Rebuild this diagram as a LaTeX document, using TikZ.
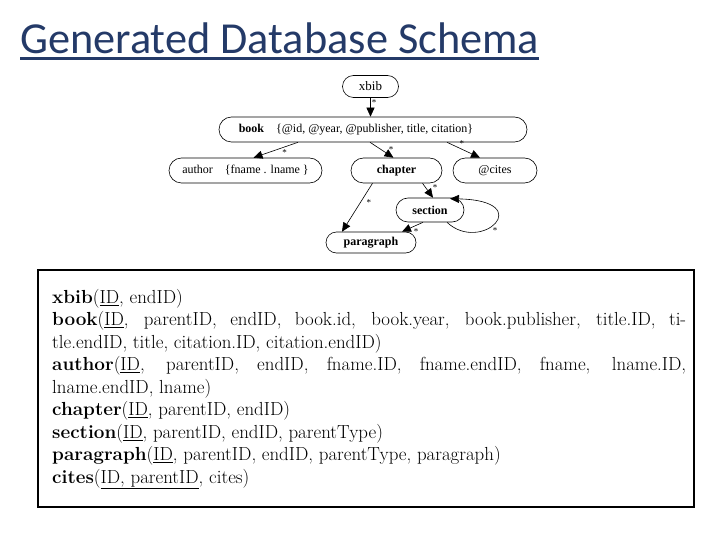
\documentclass[tikz,border=0pt]{standalone}
\usepackage{fontspec}
\newfontfamily\titlefont{Carlito}
\newfontfamily\diafont{Liberation Serif}
\usetikzlibrary{shapes.misc,arrows.meta,calc}
\definecolor{titleblue}{RGB}{36,58,104}
\tikzset{
  pill/.style={draw, rounded rectangle, minimum height=25pt, inner sep=1pt,
    font=\diafont\fontsize{12}{14}\selectfont, line width=0.6pt},
  arr/.style={-{Triangle[length=9pt,width=8pt]}, line width=0.6pt},
  star/.style={font=\diafont\fontsize{9}{9}\selectfont, inner sep=1pt},
}
\begin{document}
\begin{tikzpicture}[x=1pt,y=-1pt]
\useasboundingbox (0,0) rectangle (720,540);
% title
\node[anchor=base west, inner sep=0, text=titleblue,
  font=\titlefont\fontsize{44.3}{50}\selectfont] (title) at (20,54) {Generated Database Schema};
\draw[titleblue, line width=2.5pt] ($(title.base west)+(0,4.5)$) -- ($(title.base east)+(0,4.5)$);
% diagram
\node[pill, minimum width=58pt, minimum height=22pt, font=\diafont\fontsize{13}{14}\selectfont] (xbib) at (370.5,86.5) {xbib};
\node[pill, minimum width=310pt] (book) at (373,129.5) {\textbf{book}\quad\{@id, @year, @publisher, title, citation\}\hspace*{34pt}};
\node[pill, minimum width=155pt] (author) at (245.5,170.5) {author\quad\{fname . lname \}};
\node[pill, minimum width=93pt] (chapter) at (396.5,170.5) {\textbf{chapter}};
\node[pill, minimum width=86pt] (cites) at (495,170.5) {@cites};
\node[pill, minimum width=70pt, minimum height=24pt] (section) at (430,210) {\textbf{section}};
\node[pill, minimum width=92pt, minimum height=21pt] (paragraph) at (371,242.5) {\textbf{paragraph}};
\draw[arr] (xbib.south) -- node[star, pos=0.25, right] {*} (xbib.south |- book.north);
\draw[arr] ($(book.south)+(-75,0)$) -- node[star, pos=0.3, below=1pt] {*} ($(author.north)+(8,0)$);
\draw[arr] ($(book.south)+(-3,0)$) -- node[star, pos=0.75, above right] {*} ($(chapter.north)+(-3,0)$);
\draw[arr] ($(book.south)+(74,0)$) -- node[star, pos=0.45, above=1pt] {*} ($(cites.north)+(-15,0)$);
\draw[arr] ($(chapter.south)+(-24,0)$) -- node[star, pos=0.4, right=5pt] {*} ($(paragraph.north)+(-29,0)$);
\draw[arr] ($(chapter.south)+(26,0)$) -- node[star, pos=0.3, right=6pt] {*} ($(section.north)+(3,0)$);
\draw[arr] ($(section.south)+(-7,0)$) -- node[star, pos=0.5, below right] {*} ($(paragraph.north)+(31,0)$);
\draw[arr] ($(section.south)+(17,0)$) .. controls +(34,32) and +(88,2) .. ($(section.north east)+(-2,1)$)
  node[star, pos=0.45, below right] {*};
% box
\draw[line width=1.5pt] (38,270) rectangle (694,507);
\node[anchor=north west, inner sep=0] (schema) at (52,289) {\parbox[t]{634pt}{%
\setlength\parindent{0pt}\fontsize{18.9}{22.5}\selectfont
\textbf{xbib}(\underline{ID}, endID)\par
\textbf{book}(\underline{ID}, parentID, endID, book.id, book.year, book.publisher, title.ID, ti-\linebreak tle.endID, title, citation.ID, citation.endID)\par
\textbf{author}(\underline{ID}, parentID, endID, fname.ID, fname.endID, fname, lname.ID,\linebreak lname.endID, lname)\par
\textbf{chapter}(\underline{ID}, parentID, endID)\par
\textbf{section}(\underline{ID}, parentID, endID, parentType)\par
\textbf{paragraph}(\underline{ID}, parentID, endID, parentType, paragraph)\par
\textbf{cites}(\underline{ID, parentID}, cites)}};
\end{tikzpicture}
\end{document}
